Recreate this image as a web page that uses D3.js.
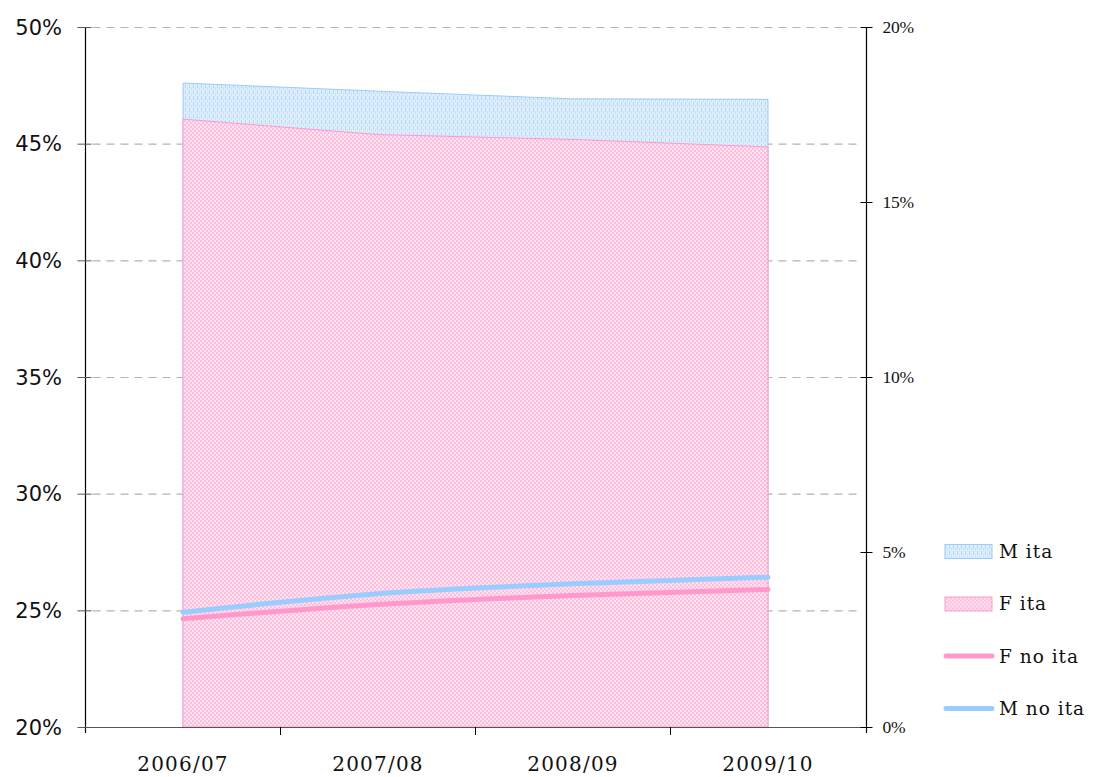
<!DOCTYPE html>
<html>
<head>
<meta charset="utf-8">
<script src="https://cdn.jsdelivr.net/npm/d3@7"></script>
<style>
  html, body { margin: 0; padding: 0; background: #fff; }
  svg { display: block; }
</style>
</head>
<body>
<svg id="chart" width="1097" height="777"></svg>
<script>
// Academic years
const years = ["2006/07", "2007/08", "2008/09", "2009/10"];

// Italian students (left axis, share %)
const mIta = [47.6, 47.25, 46.92, 46.9];
const fIta = [46.05, 45.39, 45.18, 44.86];

// Non-Italian students (right axis, share %)
const fNoIta = [3.09, 3.5, 3.76, 3.93];
const mNoIta = [3.28, 3.81, 4.09, 4.28];

// Axis tick values
const leftTicks = [20, 25, 30, 35, 40, 45, 50];
const rightTicks = [0, 5, 10, 15, 20];

const svg = d3.select("#chart");
const margin = { left: 85.5, right: 865.5, top: 27, bottom: 727 };

const x = d3.scaleBand().domain(years).range([margin.left, margin.right]).paddingInner(0).paddingOuter(0);
const xc = d => x(d) + x.bandwidth() / 2;
const yL = d3.scaleLinear().domain([20, 50]).range([margin.bottom, margin.top]);
const yR = d3.scaleLinear().domain([0, 20]).range([margin.bottom, margin.top]);

// Fill patterns
const defs = svg.append("defs");
const pPink = defs.append("pattern").attr("id", "pinkDots").attr("patternUnits", "userSpaceOnUse")
  .attr("width", 4).attr("height", 4);
pPink.append("rect").attr("width", 4).attr("height", 4).attr("fill", "#ffe2f0");
pPink.append("rect").attr("x", 0).attr("y", 0).attr("width", 2).attr("height", 2).attr("fill", "#fcc0de");
pPink.append("rect").attr("x", 2).attr("y", 2).attr("width", 2).attr("height", 2).attr("fill", "#fcc0de");

const pBlue = defs.append("pattern").attr("id", "blueDash").attr("patternUnits", "userSpaceOnUse")
  .attr("width", 4).attr("height", 6);
pBlue.append("rect").attr("width", 4).attr("height", 6).attr("fill", "#dfeefd");
pBlue.append("rect").attr("x", 1).attr("y", 0).attr("width", 1).attr("height", 4).attr("fill", "#b5d8f8");
pBlue.append("rect").attr("x", 3).attr("y", 3).attr("width", 1).attr("height", 4).attr("fill", "#c6e1fa");

// Dashed gridlines
svg.append("g").selectAll("line").data(leftTicks.filter(d => d > 20)).join("line")
  .attr("x1", margin.left + 7).attr("x2", margin.right - 6)
  .attr("y1", d => yL(d) + 0.5).attr("y2", d => yL(d) + 0.5)
  .attr("stroke", "#b3b3b3").attr("stroke-width", 1.2).attr("stroke-dasharray", "8,6");

// Areas (overlapping, M behind F)
const areaL = vals => d3.area()
  .x((d, i) => xc(years[i]))
  .y0(yL(20)).y1(d => yL(d))(vals);

svg.append("path").attr("d", areaL(mIta)).attr("fill", "url(#blueDash)")
  .attr("stroke", "#99ccff").attr("stroke-width", 1);
svg.append("path").attr("d", areaL(fIta)).attr("fill", "url(#pinkDots)")
  .attr("stroke", "#ff99cc").attr("stroke-width", 1);

// Lines on right axis
const lineR = d3.line().x((d, i) => xc(years[i])).y(d => yR(d)).curve(d3.curveMonotoneX);
svg.append("path").attr("d", lineR(fNoIta)).attr("fill", "none")
  .attr("stroke", "#ff99cc").attr("stroke-width", 5).attr("stroke-linecap", "round");
svg.append("path").attr("d", lineR(mNoIta)).attr("fill", "none")
  .attr("stroke", "#99ccff").attr("stroke-width", 5).attr("stroke-linecap", "round");

// Bottom axis
const xAxis = svg.append("g").attr("transform", `translate(0,${margin.bottom})`);
xAxis.append("line").attr("x1", margin.left).attr("x2", margin.right)
  .attr("y1", 0.5).attr("y2", 0.5).attr("stroke", "#555").attr("stroke-width", 1.2);
const xEdges = years.map(d => x(d)).concat([margin.right]);
xAxis.selectAll("line.tk").data(xEdges.slice(1, -1)).join("line").attr("class", "tk")
  .attr("x1", d => d).attr("x2", d => d).attr("y1", 0).attr("y2", 8)
  .attr("stroke", "#000").attr("stroke-width", 1);
xAxis.selectAll("text").data(years).join("text")
  .attr("x", d => xc(d)).attr("y", 44)
  .attr("text-anchor", "middle")
  .attr("font-family", "'DejaVu Serif', serif").attr("font-size", 20)
  .attr("letter-spacing", 1.2)
  .attr("fill", "#111").text(d => d);

// Left axis
const gL = svg.append("g");
gL.append("line").attr("x1", margin.left).attr("x2", margin.left)
  .attr("y1", margin.top).attr("y2", margin.bottom + 6).attr("stroke", "#000").attr("stroke-width", 1.2);
gL.selectAll("line.tk").data(leftTicks).join("line").attr("class", "tk")
  .attr("x1", margin.left - 8).attr("x2", margin.left + 6)
  .attr("y1", d => yL(d) + 0.5).attr("y2", d => yL(d) + 0.5)
  .attr("stroke", "#555").attr("stroke-width", 1);
gL.selectAll("text").data(leftTicks).join("text")
  .attr("x", 62).attr("y", d => yL(d) + 7.5)
  .attr("text-anchor", "end")
  .attr("font-family", "'DejaVu Sans', sans-serif").attr("font-size", 21)
  .attr("fill", "#111").text(d => d + "%");

// Right axis
const gR = svg.append("g");
gR.append("line").attr("x1", margin.right + 1).attr("x2", margin.right + 1)
  .attr("y1", margin.top).attr("y2", margin.bottom + 6).attr("stroke", "#000").attr("stroke-width", 1.2);
gR.selectAll("line.tk").data(rightTicks).join("line").attr("class", "tk")
  .attr("x1", margin.right - 5).attr("x2", margin.right + 7)
  .attr("y1", d => yR(d) + 0.5).attr("y2", d => yR(d) + 0.5)
  .attr("stroke", "#000").attr("stroke-width", 1);
gR.selectAll("text").data(rightTicks).join("text")
  .attr("x", margin.right + 17).attr("y", d => yR(d) + 6)
  .attr("font-family", "'Liberation Serif', serif").attr("font-size", 17.5)
  .attr("letter-spacing", -0.3)
  .attr("fill", "#111").text(d => d + "%");

// Legend
const legend = [
  { name: "M ita", type: "area", fill: "url(#blueDash)", stroke: "#99ccff" },
  { name: "F ita", type: "area", fill: "url(#pinkDots)", stroke: "#ff99cc" },
  { name: "F no ita", type: "line", stroke: "#ff99cc" },
  { name: "M no ita", type: "line", stroke: "#99ccff" }
];
const lg = svg.append("g").selectAll("g").data(legend).join("g")
  .attr("transform", (d, i) => `translate(944,${551 + i * 52.5})`);
lg.filter(d => d.type === "area").append("rect")
  .attr("x", 1).attr("y", -6.5).attr("width", 47).attr("height", 14)
  .attr("fill", d => d.fill).attr("stroke", d => d.stroke).attr("stroke-width", 1);
lg.filter(d => d.type === "line").append("line")
  .attr("x1", 2).attr("x2", 48).attr("y1", 0).attr("y2", 0)
  .attr("stroke", d => d.stroke).attr("stroke-width", 5).attr("stroke-linecap", "round");
lg.append("text").attr("x", 55).attr("y", 6.5)
  .attr("font-family", "'DejaVu Serif', serif").attr("font-size", 18.5)
  .attr("letter-spacing", 1)
  .attr("fill", "#111").text(d => d.name);
</script>
</body>
</html>
